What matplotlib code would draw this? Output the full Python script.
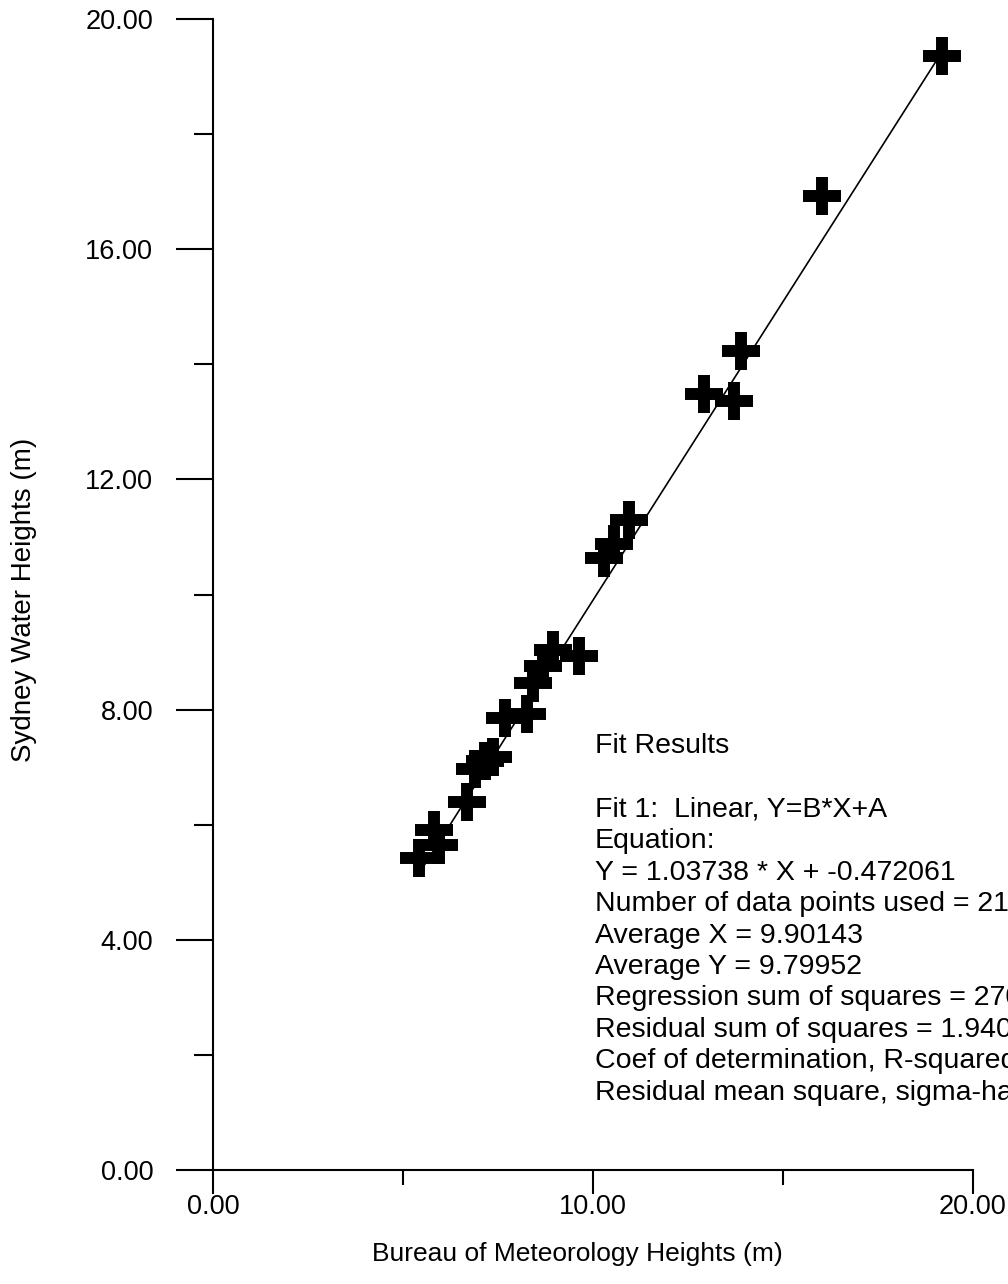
import numpy as np
import matplotlib
matplotlib.use('Agg')
import matplotlib.pyplot as plt
from matplotlib.ticker import MultipleLocator, FormatStrFormatter

# ---- data ----
bom_heights = [5.42, 5.95, 5.82, 6.68, 6.89, 7.37, 7.68, 8.26, 8.42, 8.68, 8.95,
               9.63, 10.29, 10.55, 10.95, 12.92, 13.71, 13.89, 16.03, 19.18, 7.16]
sw_heights = [5.43, 5.65, 5.91, 6.40, 6.96, 7.17, 7.86, 7.93, 8.47, 8.75, 9.04,
              8.94, 10.63, 10.87, 11.29, 13.48, 13.37, 14.23, 16.92, 19.36, 7.10]
fit_B = 1.03738
fit_A = -0.472061

fit_title = "Fit Results"
fit_lines = [
    "Fit 1:  Linear, Y=B*X+A",
    "Equation:",
    "Y = 1.03738 * X + -0.472061",
    "Number of data points used = 21",
    "Average X = 9.90143",
    "Average Y = 9.79952",
    "Regression sum of squares = 270.412",
    "Residual sum of squares = 1.94049",
    "Coef of determination, R-squared = 0.992876",
    "Residual mean square, sigma-hat-sq'd = 0.102131",
]

x_label = "Bureau of Meteorology Heights (m)"
y_label = "Sydney Water Heights (m)"

plt.rcParams['font.family'] = ['Liberation Sans', 'DejaVu Sans']

W, H = 1008, 1284
fig = plt.figure(figsize=(W / 100, H / 100), dpi=100)
fig.patch.set_facecolor('white')
ax = fig.add_axes([213 / W, 1 - 1170 / H, (973 - 213) / W, (1170 - 19) / H])
ax.set_xlim(0, 20)
ax.set_ylim(0, 20)

x = np.array(bom_heights)
y = np.array(sw_heights)
xs = np.array([x.min(), x.max()])
ax.plot(xs, fit_B * xs + fit_A, color='black', lw=1.2, zorder=2)
ax.plot(x, y, ls='none', marker='+', ms=28, mew=8.6, color='black',
        clip_on=False, zorder=3)

for s in ('top', 'right'):
    ax.spines[s].set_visible(False)
for s in ('left', 'bottom'):
    ax.spines[s].set_linewidth(1.5)

ax.xaxis.set_major_locator(MultipleLocator(10))
ax.xaxis.set_minor_locator(MultipleLocator(5))
ax.yaxis.set_major_locator(MultipleLocator(4))
ax.yaxis.set_minor_locator(MultipleLocator(2))
ax.xaxis.set_major_formatter(FormatStrFormatter('%.2f'))
ax.yaxis.set_major_formatter(FormatStrFormatter('%.2f'))

ax.tick_params(axis='y', which='major', length=27, width=1.5, direction='out',
               pad=16, labelsize=19.5)
ax.tick_params(axis='y', which='minor', length=14, width=1.5, direction='out')
ax.tick_params(axis='x', which='major', length=17, width=1.5, direction='out',
               pad=0, labelsize=19.5)
ax.tick_params(axis='x', which='minor', length=11, width=1.5, direction='out')

ax.set_xlabel(x_label, fontsize=19)
ax.xaxis.set_label_coords(577 / W, 1 - 1242 / H, transform=fig.transFigure)
ax.set_ylabel(y_label, fontsize=20)
ax.yaxis.set_label_coords(37 / W, 1 - 600 / H, transform=fig.transFigure)

fig.text(595 / W, 1 - 753 / H, fit_title, fontsize=20.5, ha='left', va='baseline')
for i, line in enumerate(fit_lines):
    fig.text(595 / W, 1 - (817 + i * 31.4) / H, line, fontsize=20.5,
             ha='left', va='baseline')

fig.savefig('out.png', dpi=100)
